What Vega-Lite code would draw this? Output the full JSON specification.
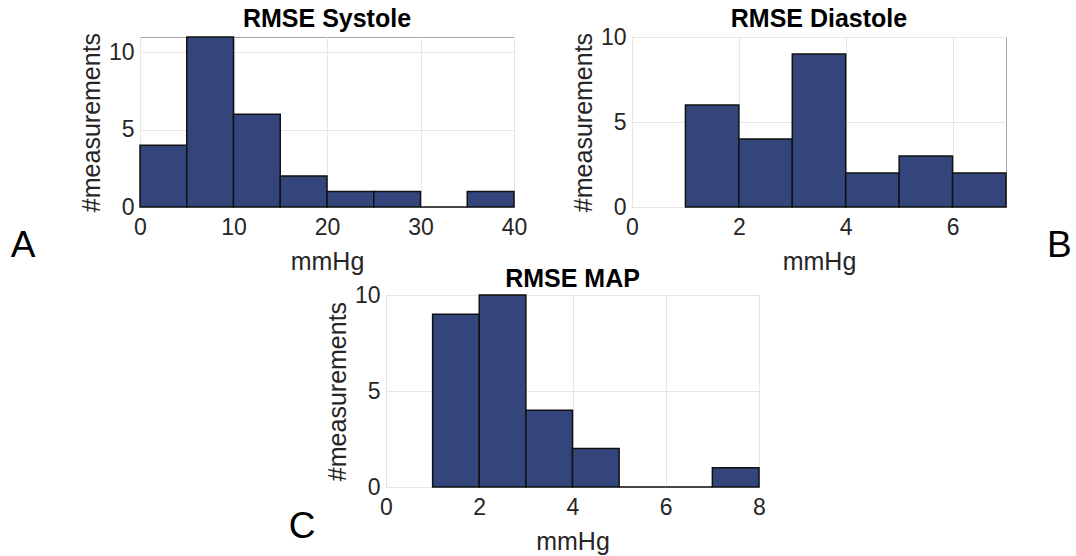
{
  "$schema": "https://vega.github.io/schema/vega-lite/v6.json",
  "padding": {"left": 10, "top": 6, "right": 0, "bottom": 0},
  "background": "white",
  "bounds": "flush",
  "spacing": 258,
  "center": false,
  "config": {
    "font": "Liberation Sans",
    "view": {"stroke": "#a6a6a6", "strokeWidth": 1},
    "axis": {
      "labelFont": "Liberation Sans",
      "titleFont": "Liberation Sans",
      "labelFontSize": 23,
      "labelColor": "#262626",
      "labelFlush": false,
      "titleFontSize": 25,
      "titleFontWeight": "normal",
      "titleColor": "#262626",
      "gridColor": "#e6e6e6",
      "domain": false,
      "ticks": false,
      "format": "d"
    },
    "axisX": {"labelPadding": 9, "titlePadding": 10},
    "axisY": {"labelPadding": 6},
    "title": {"font": "Liberation Sans", "fontSize": 25, "fontWeight": "bold", "color": "#000000", "frame": "group", "baseline": "alphabetic"}
  },
  "datasets": {
    "sys": [
      {"lo": 0, "hi": 5, "count": 4},
      {"lo": 5, "hi": 10, "count": 11},
      {"lo": 10, "hi": 15, "count": 6},
      {"lo": 15, "hi": 20, "count": 2},
      {"lo": 20, "hi": 25, "count": 1},
      {"lo": 25, "hi": 30, "count": 1},
      {"lo": 30, "hi": 35, "count": 0},
      {"lo": 35, "hi": 40, "count": 1}
    ],
    "dia": [
      {"lo": 1, "hi": 2, "count": 6},
      {"lo": 2, "hi": 3, "count": 4},
      {"lo": 3, "hi": 4, "count": 9},
      {"lo": 4, "hi": 5, "count": 2},
      {"lo": 5, "hi": 6, "count": 3},
      {"lo": 6, "hi": 7, "count": 2}
    ],
    "map": [
      {"lo": 1, "hi": 2, "count": 9},
      {"lo": 2, "hi": 3, "count": 10},
      {"lo": 3, "hi": 4, "count": 4},
      {"lo": 4, "hi": 5, "count": 2},
      {"lo": 5, "hi": 6, "count": 0},
      {"lo": 6, "hi": 7, "count": 0},
      {"lo": 7, "hi": 8, "count": 1}
    ]
  },
  "vconcat": [
    {
      "hconcat": [
        {
          "width": 374,
          "height": 170,
          "title": {"text": "RMSE Systole", "offset": 0},
          "layer": [
            {
              "data": {"name": "sys"},
              "mark": {"type": "bar", "fill": "#33457a", "stroke": "#111111", "strokeWidth": 1.5, "opacity": 1},
              "encoding": {
                "x": {"field": "lo", "type": "quantitative", "scale": {"domain": [0, 40], "nice": false, "zero": false}, "axis": {"values": [0, 10, 20, 30, 40], "title": "mmHg"}},
                "x2": {"field": "hi"},
                "y": {"field": "count", "type": "quantitative", "stack": null, "scale": {"domain": [0, 11], "nice": false}, "axis": {"values": [0, 5, 10], "title": "#measurements"}},
                "y2": {"datum": 0}
              }
            },
            {
              "data": {"values": [{"letter": "A", "lo": -12.5, "count": -2.5}]},
              "mark": {"type": "text", "fontSize": 37, "clip": false, "baseline": "middle", "align": "center", "color": "#000000"},
              "encoding": {
                "x": {"field": "lo", "type": "quantitative"},
                "y": {"field": "count", "type": "quantitative"},
                "text": {"field": "letter"}
              }
            }
          ]
        },
        {
          "width": 374,
          "height": 170,
          "title": {"text": "RMSE Diastole", "offset": -6},
          "layer": [
            {
              "data": {"name": "dia"},
              "mark": {"type": "bar", "fill": "#33457a", "stroke": "#111111", "strokeWidth": 1.5, "opacity": 1},
              "encoding": {
                "x": {"field": "lo", "type": "quantitative", "scale": {"domain": [0, 7], "nice": false, "zero": false}, "axis": {"values": [0, 2, 4, 6], "title": "mmHg"}},
                "x2": {"field": "hi"},
                "y": {"field": "count", "type": "quantitative", "stack": null, "scale": {"domain": [0, 10], "nice": false}, "axis": {"values": [0, 5, 10], "title": "#measurements"}},
                "y2": {"datum": 0}
              }
            },
            {
              "data": {"values": [{"letter": "B", "lo": 8.0, "count": -2.3}]},
              "mark": {"type": "text", "fontSize": 37, "clip": false, "baseline": "middle", "align": "center", "color": "#000000"},
              "encoding": {
                "x": {"field": "lo", "type": "quantitative"},
                "y": {"field": "count", "type": "quantitative"},
                "text": {"field": "letter"}
              }
            }
          ]
        }
      ],
      "spacing": 118,
      "bounds": "flush"
    },
    {
      "hconcat": [
        {
          "width": 200,
          "height": 192,
          "view": {"stroke": null},
          "data": {"values": [{"letter": "C", "px": 0.81, "py": -2.1}]},
          "mark": {"type": "text", "fontSize": 37, "clip": false, "baseline": "middle", "align": "center", "color": "#000000"},
          "encoding": {
            "x": {"field": "px", "type": "quantitative", "scale": {"domain": [0, 1], "nice": false, "zero": false}, "axis": null},
            "y": {"field": "py", "type": "quantitative", "scale": {"domain": [0, 10], "nice": false}, "axis": null},
            "text": {"field": "letter"}
          }
        },
        {
          "width": 373,
          "height": 192,
          "title": {"text": "RMSE MAP", "offset": -8},
          "data": {"name": "map"},
          "mark": {"type": "bar", "fill": "#33457a", "stroke": "#111111", "strokeWidth": 1.5, "opacity": 1},
          "encoding": {
            "x": {"field": "lo", "type": "quantitative", "scale": {"domain": [0, 8], "nice": false, "zero": false}, "axis": {"values": [0, 2, 4, 6, 8], "title": "mmHg"}},
            "x2": {"field": "hi"},
            "y": {"field": "count", "type": "quantitative", "stack": null, "scale": {"domain": [0, 10], "nice": false}, "axis": {"values": [0, 5, 10], "title": "#measurements"}},
            "y2": {"datum": 0}
          }
        }
      ],
      "spacing": 46,
      "bounds": "flush"
    }
  ]
}
